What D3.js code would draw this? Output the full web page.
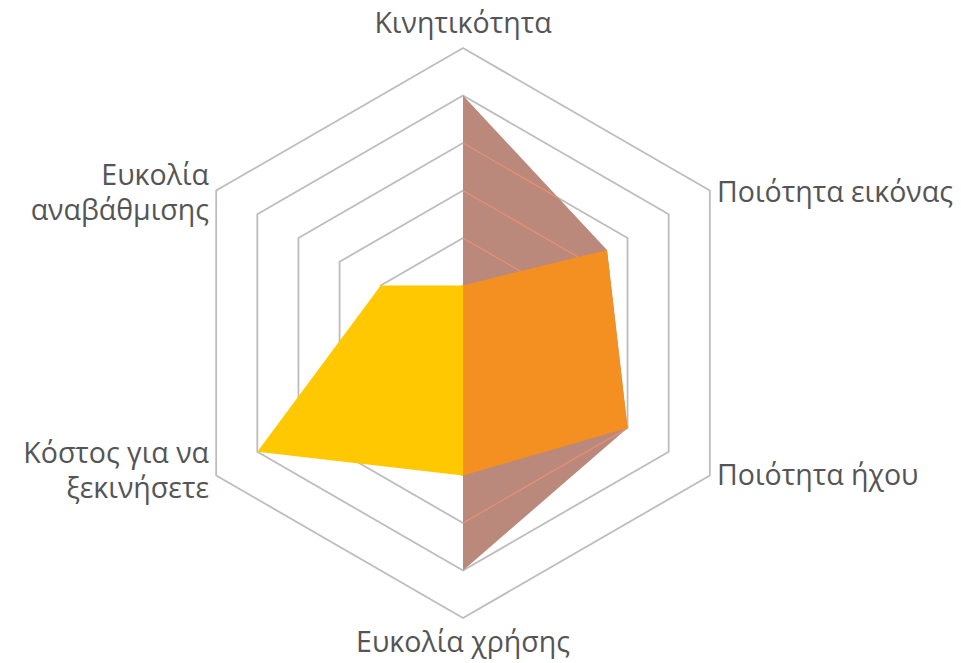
<!DOCTYPE html>
<html><head><meta charset="utf-8">
<script src="https://cdn.jsdelivr.net/npm/d3@7"></script>
<style>html,body{margin:0;padding:0;background:#fff;}</style>
</head><body>
<svg id="chart" width="961" height="663"></svg>
<script>
const axes = ["Κινητικότητα", "Ποιότητα εικόνας", "Ποιότητα ήχου", "Ευκολία χρήσης", "Κόστος για να ξεκινήσετε", "Ευκολία αναβάθμισης"];
const seriesBrown = [5, 3.5, 4, 5, 0, 0];
const seriesYellow = [1, 0, 0, 3, 5, 2];
const seriesOrange = [1, 3.5, 4, 3, 0, 0];
const gridLevels = [1, 2, 3, 4, 5, 6];
const maxValue = 6;

const svg = d3.select("#chart");
const cx = 463, cy = 333, R = 285;
const r = d3.scaleLinear().domain([0, maxValue]).range([0, R]);
const angle = i => i * 2 * Math.PI / axes.length;
const pt = (v, i) => [cx + r(v) * Math.sin(angle(i)), cy - r(v) * Math.cos(angle(i))];
const polyPath = vals => "M" + vals.map((v, i) => pt(v, i).join(",")).join("L") + "Z";
const ringPath = lvl => polyPath(axes.map(() => lvl));

// grid rings
svg.append("g").selectAll("path").data(gridLevels).join("path")
  .attr("d", ringPath).attr("fill", "none").attr("stroke", "#bdbdbd").attr("stroke-width", 1.8);

// brown series
svg.append("path").attr("d", polyPath(seriesBrown)).attr("fill", "#ba897b");
svg.append("clipPath").attr("id", "brownClip").append("path").attr("d", polyPath(seriesBrown));
svg.append("g").attr("clip-path", "url(#brownClip)").selectAll("path").data(gridLevels).join("path")
  .attr("d", ringPath).attr("fill", "none").attr("stroke", "#e88f72").attr("stroke-width", 1.2);

svg.append("path").attr("d", polyPath(seriesYellow)).attr("fill", "#ffc800");
svg.append("path").attr("d", polyPath(seriesOrange)).attr("fill", "#f48f22");

// labels
const labelSpec = [
  {x: 463, y: 33, anchor: "middle", lines: ["Κινητικότητα"]},
  {x: 717, y: 202, anchor: "start", lines: ["Ποιότητα εικόνας"]},
  {x: 717, y: 485, anchor: "start", lines: ["Ποιότητα ήχου"]},
  {x: 463, y: 652, anchor: "middle", lines: ["Ευκολία χρήσης"]},
  {x: 209, y: 463, anchor: "end", lines: ["Κόστος για να", "ξεκινήσετε"]},
  {x: 209, y: 185, anchor: "end", lines: ["Ευκολία", "αναβάθμισης"]}
];
const lg = svg.append("g").attr("font-family", "'Open Sans', sans-serif").attr("font-size", 28.5).attr("fill", "#555555");
labelSpec.forEach((s, i) => {
  const t = lg.append("text").attr("x", s.x).attr("y", s.y).attr("text-anchor", s.anchor);
  s.lines.forEach((ln, j) => t.append("tspan").attr("x", s.x).attr("dy", j === 0 ? 0 : 35).text(ln));
});
</script>
</body></html>
